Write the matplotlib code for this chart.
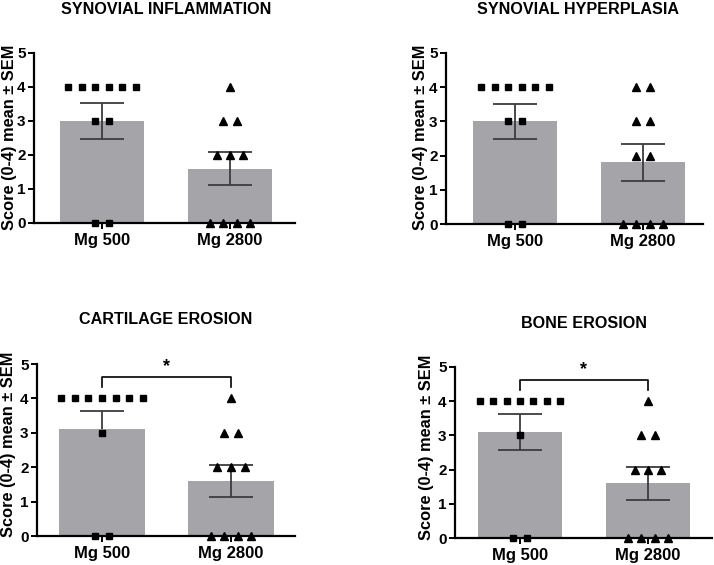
import numpy as np
import matplotlib
matplotlib.use("Agg")
import matplotlib.pyplot as plt

plt.rcParams['font.family'] = ['Liberation Sans', 'DejaVu Sans']
plt.rcParams['font.weight'] = 'bold'

groups = ["Mg 500", "Mg 2800"]
titles = ["SYNOVIAL INFLAMMATION", "SYNOVIAL HYPERPLASIA", "CARTILAGE EROSION", "BONE EROSION"]
ylabel = "Score (0-4) mean ± SEM"

inflam_mg500 = [4, 4, 4, 4, 4, 4, 3, 3, 0, 0]
inflam_mg2800 = [4, 3, 3, 2, 2, 2, 0, 0, 0, 0]
hyper_mg500 = [4, 4, 4, 4, 4, 4, 3, 3, 0, 0]
hyper_mg2800 = [4, 4, 3, 3, 2, 2, 0, 0, 0, 0]
cart_mg500 = [4, 4, 4, 4, 4, 4, 4, 3, 0, 0]
cart_mg2800 = [4, 3, 3, 2, 2, 2, 0, 0, 0, 0]
bone_mg500 = [4, 4, 4, 4, 4, 4, 4, 3, 0, 0]
bone_mg2800 = [4, 3, 3, 2, 2, 2, 0, 0, 0, 0]

panel_data = [(inflam_mg500, inflam_mg2800), (hyper_mg500, hyper_mg2800),
              (cart_mg500, cart_mg2800), (bone_mg500, bone_mg2800)]
significant = [False, False, True, True]
lower_err_shown = [(True, True), (True, True), (False, True), (True, True)]

W, H = 714, 565
fig = plt.figure(figsize=(W / 100, H / 100), dpi=100)

# pixel geometry: (left, right, y0, y5, title_x, title_y, ylabel_x, ylabel_y)
geoms = [(34, 295, 223, 53, 166, 9, 10, 137),
         (446, 703, 224, 53, 578, 9, 420, 137),
         (37, 295, 536, 364, 166, 320, 9, 444),
         (455, 712, 538, 367, 584, 323, 427, 447)]
centers = [(102, 230), (515, 643), (102, 231), (520, 648)]

bar_color = "#A4A4A9"
err_color = "#3C3C3C"
spacing = 0.105

for i, (vals, geom, cen) in enumerate(zip(panel_data, geoms, centers)):
    left, right, y0, y5, tx, ty, lx, ly = geom
    ax = fig.add_axes([left / W, (H - y0) / H, (right - left) / W, (y0 - y5) / H])
    unit = cen[1] - cen[0]
    ax.set_xlim(-(cen[0] - left) / unit, 1 + (right - cen[1]) / unit)
    ax.set_ylim(0, 5)
    xs = np.arange(len(groups))
    means = [np.mean(v) for v in vals]
    sems = [np.std(v, ddof=1) / np.sqrt(len(v)) for v in vals]
    ax.bar(xs, means, width=0.66, color=bar_color, zorder=1)
    for x, m, s, showlow in zip(xs, means, sems, lower_err_shown[i]):
        lo = m - s if showlow else m
        ax.vlines(x, lo, m + s, color=err_color, lw=1.3, zorder=2)
        ax.hlines(m + s, x - 0.17, x + 0.17, color=err_color, lw=1.3, zorder=2)
        if showlow:
            ax.hlines(m - s, x - 0.17, x + 0.17, color=err_color, lw=1.3, zorder=2)
    markers = ['s', '^']
    msizes = [4.6, 5.2]
    for gi, v in enumerate(vals):
        v = np.array(v)
        for level in np.unique(v):
            n = np.sum(v == level)
            offs = (np.arange(n) - (n - 1) / 2) * spacing
            ax.plot(gi + offs, [level] * n, linestyle='none', marker=markers[gi],
                    markersize=msizes[gi], color='black', zorder=5, clip_on=False)
    if significant[i]:
        yb, yl = 4.62, 4.33
        ax.plot([0, 0, 1, 1], [yl, yb, yb, yl], color='black', lw=1.2, clip_on=False)
        ax.text(0.5, 4.68, "*", ha='center', va='bottom', fontsize=13, fontweight='bold')
    for s in ['top', 'right']:
        ax.spines[s].set_visible(False)
    for s in ['left', 'bottom']:
        ax.spines[s].set_linewidth(1.6)
    ax.set_yticks([0, 1, 2, 3, 4, 5])
    ax.set_xticks(xs)
    ax.set_xticklabels(groups, fontsize=12, fontweight='bold')
    ax.tick_params(axis='y', labelsize=11, width=1.4, length=4, pad=2)
    ax.tick_params(axis='x', width=1.4, length=4, pad=3)
    fig.text(lx / W, 1 - ly / H, ylabel, rotation=90, ha='center', va='center',
             fontsize=11.8, fontweight='bold')
    fig.text(tx / W, 1 - ty / H, titles[i], ha='center', va='center',
             fontsize=11.6, fontweight='bold')

fig.savefig("out.png", dpi=100)
